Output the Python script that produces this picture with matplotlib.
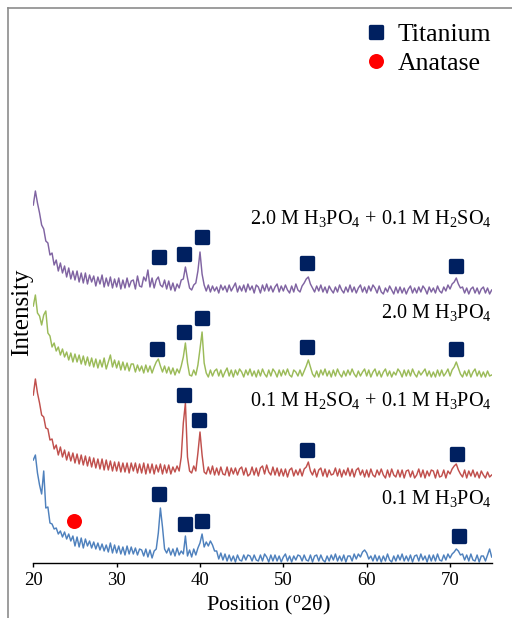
import numpy as np
import matplotlib
matplotlib.use("Agg")
import matplotlib.pyplot as plt
from matplotlib.lines import Line2D
from matplotlib.markers import MarkerStyle

plt.rcParams['font.family'] = ['Liberation Serif', 'DejaVu Serif']
plt.rcParams['mathtext.fontset'] = 'custom'
plt.rcParams['mathtext.rm'] = 'Liberation Serif'
plt.rcParams['mathtext.it'] = 'Liberation Serif:italic'
plt.rcParams['mathtext.bf'] = 'Liberation Serif:bold'

# 2-theta sampling grid (degrees), 0.25 deg steps from 20 to 75
two_theta = np.arange(0, 221) * 0.25 + 20.0

# Intensities (arbitrary units, offset-stacked), one row per degree
i_h3po4_01 = [
    103, 108, 90, 78, 69, 92, 55, 56, 40, 39, 34, 35, 29, 32, 26, 31, 24, 29, 22, 27,
    17, 26, 16, 25, 15, 24, 17, 22, 15, 21, 14, 20, 13, 19, 12, 18, 11, 20, 10, 18,
    10, 17, 9, 16, 8, 17, 9, 16, 9, 15, 8, 14, 13, 7, 14, 6, 13, 5, 12, 14,
    30, 55, 36, 14, 10, 15, 8, 14, 7, 15, 8, 12, 9, 27, 7, 13, 6, 14, 8, 15,
    20, 29, 16, 21, 17, 22, 18, 12, 12, 4, 10, 3, 9, 2, 8, 2, 7, 1, 8, 3,
    2, 8, 3, 8, 7, 2, 8, 3, 2, 8, 2, 9, 6, 1, 8, 2, 8, 2, 7, 1,
    6, 9, 2, 7, 1, 7, 3, 8, 7, 2, 8, 3, 2, 8, 1, 7, 8, 2, 8, 3,
    1, 7, 2, 8, 3, 9, 2, 7, 2, 8, 1, 7, 7, 2, 9, 4, 9, 6, 11, 13,
    10, 4, 7, 2, 8, 2, 7, 1, 7, 2, 9, 3, 1, 7, 2, 8, 3, 9, 2, 7,
    2, 8, 1, 7, 8, 2, 9, 3, 7, 1, 8, 2, 8, 2, 9, 3, 2, 8, 3, 9,
    5, 9, 11, 14, 12, 8, 9, 3, 8, 2, 9, 3, 2, 8, 1, 7, 7, 2, 8, 14,
    6]

i_h2so4_h3po4 = [
    168, 184, 170, 160, 148, 146, 135, 134, 123, 124, 114, 118, 108, 116, 106, 113, 103, 111, 102, 110,
    100, 109, 99, 108, 98, 107, 97, 106, 96, 105, 95, 104, 94, 104, 93, 103, 93, 102, 92, 101,
    92, 101, 91, 100, 91, 100, 90, 100, 92, 100, 90, 99, 90, 100, 89, 99, 90, 99, 89, 98,
    91, 99, 89, 98, 90, 98, 89, 96, 91, 97, 92, 106, 140, 160, 106, 92, 90, 97, 92, 110,
    131, 108, 91, 89, 96, 89, 97, 88, 95, 88, 96, 89, 88, 96, 87, 95, 89, 95, 88, 94,
    96, 88, 95, 87, 89, 96, 88, 95, 87, 95, 97, 89, 98, 91, 88, 96, 88, 95, 87, 94,
    87, 94, 86, 93, 95, 87, 93, 88, 94, 87, 94, 96, 101, 92, 88, 94, 86, 93, 95, 87,
    94, 86, 93, 88, 89, 95, 87, 94, 86, 93, 88, 95, 87, 94, 86, 93, 95, 88, 93, 86,
    93, 86, 94, 88, 86, 93, 88, 94, 88, 85, 93, 86, 94, 88, 86, 93, 86, 93, 85, 92,
    93, 86, 92, 85, 88, 94, 86, 93, 85, 92, 87, 93, 92, 85, 93, 86, 87, 93, 85, 92,
    89, 94, 97, 99, 93, 89, 86, 93, 85, 92, 87, 93, 86, 91, 85, 92, 88, 85, 91, 86,
    88]

i_h3po4_20 = [
    257, 268, 250, 247, 238, 248, 252, 230, 227, 216, 220, 212, 216, 208, 214, 206, 211, 203, 210, 201,
    209, 201, 208, 199, 207, 198, 206, 197, 205, 196, 204, 195, 203, 196, 205, 194, 201, 208, 196, 203,
    195, 202, 193, 201, 193, 200, 192, 199, 199, 191, 198, 192, 197, 190, 198, 191, 197, 190, 196, 201,
    204, 197, 191, 197, 190, 196, 189, 195, 188, 194, 190, 197, 206, 220, 200, 188, 187, 193, 188, 198,
    214, 231, 200, 190, 186, 193, 187, 192, 194, 187, 193, 186, 191, 195, 187, 193, 186, 193, 188, 194,
    191, 186, 193, 188, 194, 187, 192, 186, 193, 187, 194, 189, 186, 193, 187, 194, 191, 186, 193, 187,
    193, 188, 194, 188, 186, 193, 191, 187, 193, 187, 192, 197, 203, 196, 189, 186, 192, 186, 193, 188,
    194, 187, 192, 186, 193, 187, 194, 189, 186, 192, 187, 193, 188, 194, 189, 186, 192, 187, 191, 194,
    187, 193, 186, 191, 194, 187, 192, 186, 191, 194, 187, 192, 186, 191, 188, 194, 191, 186, 193, 187,
    193, 187, 194, 189, 186, 192, 188, 191, 194, 187, 192, 186, 191, 186, 193, 187, 193, 187, 190, 194,
    187, 193, 196, 201, 195, 189, 186, 192, 187, 193, 186, 191, 194, 187, 192, 186, 191, 186, 192, 187,
    188]

i_h3po4_h2so4 = [
    358, 372, 360, 350, 338, 334, 322, 320, 308, 310, 298, 303, 292, 300, 290, 297, 286, 295, 284, 292,
    283, 292, 281, 290, 280, 290, 279, 288, 281, 287, 277, 286, 279, 288, 276, 285, 277, 286, 275, 284,
    276, 285, 274, 283, 275, 285, 276, 282, 283, 274, 287, 277, 276, 286, 282, 293, 276, 285, 275, 283,
    286, 278, 276, 283, 274, 282, 273, 280, 272, 279, 275, 283, 284, 296, 285, 275, 273, 278, 280, 292,
    311, 289, 278, 272, 278, 271, 277, 272, 276, 270, 278, 273, 277, 271, 278, 272, 276, 280, 271, 277,
    272, 278, 271, 279, 273, 277, 270, 278, 276, 270, 278, 272, 279, 272, 277, 271, 276, 279, 271, 277,
    272, 278, 273, 270, 277, 271, 279, 273, 271, 277, 280, 284, 286, 279, 275, 271, 277, 272, 278, 271,
    276, 270, 277, 273, 270, 276, 271, 278, 273, 270, 276, 271, 278, 271, 276, 270, 275, 278, 271, 276,
    270, 277, 272, 278, 275, 270, 277, 271, 269, 275, 271, 277, 273, 269, 276, 270, 276, 270, 275, 269,
    274, 277, 270, 275, 270, 276, 271, 277, 274, 269, 276, 271, 275, 270, 277, 272, 270, 276, 272, 278,
    274, 279, 281, 285, 279, 275, 276, 270, 275, 269, 274, 276, 270, 275, 269, 274, 276, 270, 275, 269,
    273]

series = [i_h3po4_01, i_h2so4_h3po4, i_h3po4_20, i_h3po4_h2so4]
colors = ['#4F81BD', '#C0504D', '#9BBB59', '#8064A2']
labels = ['0.1 M H$_3$PO$_4$',
          '0.1 M H$_2$SO$_4$ + 0.1 M H$_3$PO$_4$',
          '2.0 M H$_3$PO$_4$',
          '2.0 M H$_3$PO$_4$ + 0.1 M H$_2$SO$_4$']
label_y = [59, 157, 245, 339]

# Titanium peak markers (2theta, marker height)
ti_x = [35.08, 38.2, 40.28, 71.12,
        38.05, 39.92, 52.81, 70.8,
        34.81, 38.05, 40.21, 52.88, 70.72,
        35.12, 38.12, 40.21, 52.88, 70.72]
ti_y = [69, 39, 42, 27,
        168, 143, 113, 109,
        214, 231, 245, 216, 214,
        306, 309, 326, 300, 297]
# Anatase marker
an_x = [24.88]
an_y = [42]

xticks = [20, 30, 40, 50, 60, 70]

W, H = 512, 618
fig = plt.figure(figsize=(W / 100, H / 100), dpi=100)
ax = fig.add_axes([33.3 / W, (H - 563) / H, (491.7 - 33.3) / W, 543 / H])

for y, c in zip(series, colors):
    ax.plot(two_theta, y, color=c, lw=1.05, zorder=2)

navy = '#002060'
sq = MarkerStyle('s', joinstyle='round')
ax.plot(ti_x, ti_y, ls='none', marker=sq, ms=8.0, mew=2.4, color=navy, zorder=3)
ax.plot(an_x, an_y, ls='none', marker='o', ms=10.8, mew=0, color='#FF0000', zorder=3)

for lab, ly in zip(labels, label_y):
    ax.text(75, ly, lab, ha='right', va='baseline', fontsize=14.6, color='black')

ax.set_xlim(20, 75)
ax.set_ylim(0, 543)
ax.set_xticks(xticks)
ax.set_yticks([])
for s in ['left', 'right', 'top']:
    ax.spines[s].set_visible(False)
ax.spines['bottom'].set_linewidth(1.0)
ax.tick_params(axis='x', direction='out', length=3, width=1.0, pad=3.5, labelsize=13.5)

ax.set_xlabel('Position ($^{\\rm o}$2θ)', fontsize=16, va='center')
ax.xaxis.set_label_coords((268 - 33.3) / 458.4, (563 - 605) / 543)
ax.set_ylabel('Intensity', fontsize=18, va='center')
ax.yaxis.set_label_coords((22 - 33.3) / 458.4, (563 - 312) / 543)

handles = [Line2D([], [], ls='none', marker=sq, ms=8.0, mew=2.4, color=navy),
           Line2D([], [], ls='none', marker='o', ms=10.8, mew=0, color='#FF0000')]
ax.legend(handles, ['Titanium', 'Anatase'], loc='upper left',
          bbox_to_anchor=(363.5 / W, 1 - 23 / H), bbox_transform=fig.transFigure,
          frameon=False, fontsize=18.5, handlelength=1.0, handletextpad=0.32,
          borderpad=0, borderaxespad=0, labelspacing=0.22)

# figure frame (left and top edges)
fig.add_artist(Line2D([8 / W, 8 / W], [0, 1 - 8 / H], transform=fig.transFigure,
                      color='#8c8c8c', lw=1.2))
fig.add_artist(Line2D([8 / W, 1], [1 - 8 / H, 1 - 8 / H], transform=fig.transFigure,
                      color='#8c8c8c', lw=1.2))

fig.savefig('out.png', dpi=100)
